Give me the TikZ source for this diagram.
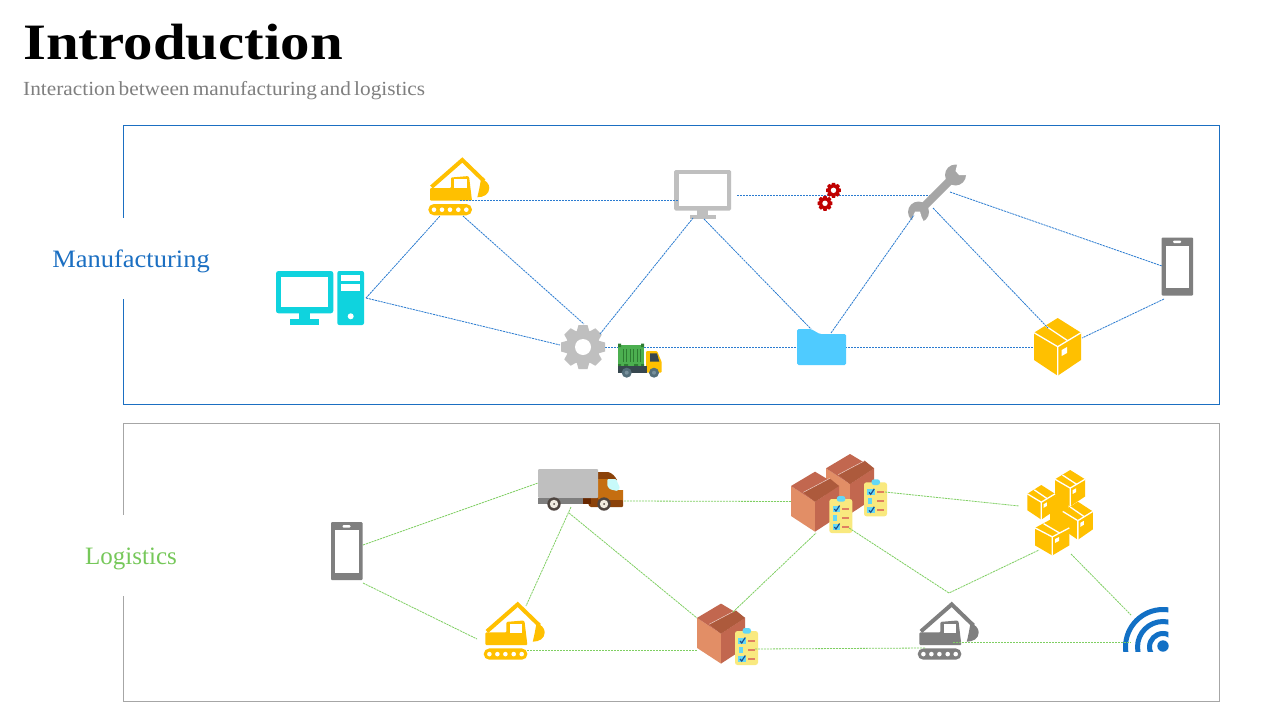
\documentclass[tikz,border=0pt]{standalone}
\usepackage{fontspec}
\setmainfont{Liberation Serif}
\newfontfamily\titlefont[FakeStretch=1.155]{Liberation Serif}
\newfontfamily\subfont[FakeStretch=1.065,WordSpace=0.6]{Liberation Serif}
\newfontfamily\labelfont[FakeStretch=1.06]{Liberation Serif}
\newfontfamily\labelfontb{Liberation Serif}
\definecolor{mblue}{HTML}{1B6FC2}
\definecolor{mgreen}{HTML}{76C85A}
\definecolor{lineb}{HTML}{2A7BD0}
\definecolor{lineg}{HTML}{7FCF62}
\definecolor{frameg}{HTML}{A6A6A6}
\definecolor{amber}{HTML}{FFC000}
\definecolor{cyanpc}{HTML}{0FD3DE}
\definecolor{lgray}{HTML}{BFBFBF}
\definecolor{dgray}{HTML}{7F7F7F}
\definecolor{wgray}{HTML}{A6A6A6}
\definecolor{redgear}{HTML}{C00000}
\definecolor{folderb}{HTML}{4FCBFF}
\definecolor{cartonl}{HTML}{E28E66}
\definecolor{cartonr}{HTML}{C2674F}
\definecolor{cartond}{HTML}{AD5A3C}
\definecolor{clipy}{HTML}{F9E97F}
\definecolor{clipc}{HTML}{63D8F7}
\definecolor{clipo}{HTML}{E08060}
\definecolor{clipk}{HTML}{1F4E8C}
\definecolor{cabo}{HTML}{C56E10}
\definecolor{cabd}{HTML}{8B4209}
\definecolor{cabx}{HTML}{682800}
\definecolor{glassc}{HTML}{C8FAFA}
\definecolor{tyre}{HTML}{4E4540}
\definecolor{hubc}{HTML}{F0EBE0}
\definecolor{contg}{HTML}{4CAF50}
\definecolor{contd}{HTML}{2E7D32}
\definecolor{slate}{HTML}{37474F}
\definecolor{wheel}{HTML}{546E7A}
\definecolor{hubw}{HTML}{78909C}
\definecolor{wifib}{HTML}{1270C5}
\tikzset{
  linkm/.style={draw=lineb,line width=0.8pt,dash pattern=on 2.2pt off 0.8pt},
  linkg/.style={draw=lineg,line width=0.8pt,dash pattern=on 2.2pt off 0.8pt},
  sidelabel/.style={inner sep=0pt},
  pics/excav/.style={code={
    \draw[#1,line width=4pt,line join=miter] (3.5,30) -- (34.3,3) -- (56,24);
    \fill[#1,rounded corners=1pt] (2,31) -- (23,31) -- (23,20.5) [rounded corners=2pt] -- (41,19) [rounded corners=1pt] -- (44,43.7) -- (2,43.7) -- cycle;
    \fill[white] (26.3,22.3) rectangle (38.7,31.3);
    \fill[#1] (53,22) .. controls (58,23) and (61.3,27) .. (61.3,31) .. controls (61.3,37) and (56,40.3) .. (49.3,40.3) .. controls (51,34) and (52,28) .. (53,22) -- cycle;
    \fill[#1,rounded corners=5.6pt] (0.3,47) rectangle (44,58.3);
    \foreach \q in {6,14,22,30.3,38.3} {\fill[white] (\q,52.7) circle (2.3);}
  }},
  pics/phoneicon/.style={code={
    \fill[dgray,rounded corners=1pt] (0,0) rectangle (31.5,58);
    \fill[white] (4,8.2) rectangle (27.5,50.5);
    \fill[white,rounded corners=1pt] (11.5,3) rectangle (19.5,5.5);
  }},
  pics/gearwheel/.style={code={
    \fill[#1] (0,0) circle (17);
    \foreach \a in {0,45,...,315} {\fill[#1,rotate=\a] (15,-6.5) -- (22,-4.5) -- (22,4.5) -- (15,6.5) -- cycle;}
    \fill[white] (0,0) circle (8);
  }},
  pics/goldbox/.style={code={
    \fill[amber] (23.7,0) -- (47,14.7) -- (47,42) -- (23.7,57.7) -- (0,42) -- (0,14.7) -- cycle;
    \draw[white,line width=1.3pt] (0,14.7) -- (23.7,28.7) -- (47,14.7) (23.7,28.7) -- (23.7,58);
    \draw[white,line width=1.3pt] (11.7,8) -- (33.7,22.7);
    \fill[white] (27.7,32) -- (33,29) -- (33,35) -- (27.7,38) -- cycle;
  }},
  pics/carton/.style={code={
    \fill[cartonl] (0,14.3) -- (24,30) -- (24,60) -- (0,44.3) -- cycle;
    \fill[cartonr] (24,30) -- (48,14.3) -- (48,44.3) -- (24,60) -- cycle;
    \fill[cartonr] (24,0) -- (48,14.3) -- (24,30) -- (0,14.3) -- cycle;
    \fill[cartond] (12.3,20.6) -- (38.7,6.7) -- (48,14.3) -- (24,30) -- cycle;
    \draw[white!70!cartonr,line width=0.5pt] (12.3,20.6) -- (38.7,6.7);
  }},
  pics/clipsheet/.style={code={
    \fill[clipy,rounded corners=2.5pt] (0,0) rectangle (23,34);
    \fill[clipc,rounded corners=2.5pt] (7.5,-3) rectangle (16,2.7);
    \foreach \r in {10,28} {
      \fill[clipc] (3.3,\r-3.5) rectangle (10.5,\r+3);
      \draw[clipk,line width=1.2pt] (5,\r) -- (6.7,\r+2) -- (10.3,\r-3.5);
    }
    \fill[clipc] (4,16) rectangle (8,21.5);
    \foreach \r in {10,18.7,28} {\fill[clipo] (13,\r-1) rectangle (20,\r+1);}
  }},
}
\begin{document}
\begin{tikzpicture}[x=1pt,y=-1pt]
\useasboundingbox (0,0) rectangle (1280,720);
\fill[white] (0,0) rectangle (1280,720);
% frames
\draw[mblue,line width=0.9pt] (123.5,125.5) rectangle (1219.5,404.5);
\draw[frameg,line width=0.9pt] (123.5,423.5) rectangle (1219.5,701.5);
\fill[white] (52,217.5) rectangle (210,298.5);
\fill[white] (85,515) rectangle (177,596);
% texts
\node[anchor=base west,inner sep=0pt,font=\titlefont\bfseries\fontsize{51}{55}\selectfont] (title) at (23,59.5) {Introduction};
\node[anchor=base west,inner sep=0pt,text=dgray,font=\subfont\fontsize{20}{24}\selectfont] (subtitle) at (23,95.5) {Interaction between manufacturing and logistics};
\node[sidelabel,text=mblue,font=\labelfont\fontsize{25}{28}\selectfont] (manu) at (131,261.5) {Manufacturing};
\node[sidelabel,text=mgreen,font=\labelfontb\fontsize{25}{28}\selectfont] (logi) at (131,559) {Logistics};
% connector end points
\foreach \n/\p in {pcA/{366,298},exA/{440,216},gearA/{560,345},exB/{463,216},gearB/{584,324},exC/{460,200.5},monA/{678,200.5},gearC/{600,334},monB/{693,218},monC/{704,219},foldA/{811,329},foldB/{831,333},wrA/{914,215},wrB/{933,208},boxA/{1048,328},wrC/{950,192},phA/{1162,266},phB/{1164,299},boxB/{1082,338},monD/{737,195.3},wrD/{930,195.3},gearD/{605,347.3},boxC/{1033,347.3},
  lpA/{363,545},trA/{538,483},lpB/{363,583},lexA/{477,639},trB/{624,501},cartA/{791,501.5},trC/{571,507},lexB/{526,606},trD/{569,513},cartB/{697,618},lexC/{527,650},cartC/{697,650},cartD/{733,612},cartE/{816,533},clipA/{755,649},gexA/{925,648},clipB/{885,492},stkA/{1019,506},clipC/{849,528},kink/{949,593},stkB/{1039,550},stkC/{1071,554},wifiA/{1131,615},gexB/{953,642},wifiB/{1131,642}}
  {\coordinate (\n) at (\p);}
% connectors behind the icons
\draw[linkm] (gearD) -- (boxC);
\draw[linkm] (monD) -- (wrD);
\draw[linkg] (trB) -- (cartA);
% PC
\fill[cyanpc,rounded corners=2.5pt] (276,271) rectangle (333.3,313.3);
\fill[white] (281.3,276.7) rectangle (328.3,307.3);
\fill[cyanpc] (299,313) rectangle (310.3,319.5);
\fill[cyanpc] (290,319) rectangle (319,325);
\fill[cyanpc,rounded corners=2pt] (337.3,271) rectangle (364,325);
\fill[white] (341,274.7) rectangle (360.3,281);
\fill[white] (341,284.3) rectangle (360.3,290.7);
\fill[white] (350.7,316.3) circle (3);
% excavators
\pic at (428,157) {excav=amber};
\pic at (483.4,601.4) {excav=amber};
\pic at (917.4,601.4) {excav=dgray};
% gears
\pic at (583,347) {gearwheel=lgray};
\pic[scale=0.34] at (833.5,190.3) {gearwheel=redgear};
\pic[scale=0.34] at (825,203.3) {gearwheel=redgear};
% container truck
\fill[contg] (618,345) rectangle (644,366);
\fill[contd] (618,343.5) rectangle (621,347) (641,343.5) rectangle (644,347) (618,364) rectangle (621,367) (641,364) rectangle (644,367);
\foreach \q in {622.5,626,629.5,633,636.5,640} {\fill[contd] (\q,349) rectangle (\q+1.2,362);}
\fill[contd] (624,364) rectangle (628,366) (634,364) rectangle (638,366);
\fill[amber,rounded corners=1pt] (646,351) -- (657,351) -- (661.7,362) -- (661.7,372.7) -- (646,372.7) -- cycle;
\fill[slate] (650,353.3) -- (657,353.3) -- (659.3,361.7) -- (650,361.7) -- cycle;
\fill[slate] (618,366) rectangle (646.5,372.7);
\foreach \q in {626.7,654} {\fill[wheel] (\q,372.7) circle (5); \fill[hubw] (\q,372.7) circle (2);}
% monitor
\fill[lgray,rounded corners=1.5pt] (674,170) rectangle (731,210.5);
\fill[white] (678.6,174.3) rectangle (727,206);
\fill[lgray] (697,210) rectangle (708,215.5);
\fill[lgray] (690,215) rectangle (716,219);
% wrench
\fill[wgray] (955.5,175) circle (10.5);
\fill[wgray] (918.5,212) circle (10.5);
\draw[wgray,line width=8pt] (955.5,175) -- (918.5,212);
\fill[white] (957,165) -- (955.5,171) -- (959,175) -- (966,175) -- (975,165) -- (962,157) -- cycle;
\fill[white] (912.7,216.7) -- (915,211.7) -- (920,211.7) -- (921.7,217.3) -- (926,226) -- (911.5,226) -- cycle;
% folder
\fill[folderb,rounded corners=1.5pt] (797,329) -- (811,329) -- (819.7,334) -- (846,334) -- (846,365) -- (797,365) -- cycle;
% big box and phones
\pic at (1034,318) {goldbox};
\pic at (1161.5,237.5) {phoneicon};
\pic at (331,522) {phoneicon};
% big truck
\fill[cabd] (598,472) -- (608,472) .. controls (612,473) and (615,476) .. (617,480) -- (598,480) -- cycle;
\fill[cabo] (598,479) -- (616,479) -- (618,490) -- (623,490) -- (623,501) -- (598,501) -- cycle;
\fill[cabd,rounded corners=1pt] (591,497) -- (598,497) -- (598,500) -- (623,500) -- (623,507) -- (590,507) -- (588,504) -- cycle;
\fill[cabx] (583.3,497.7) rectangle (591,504);
\fill[lgray,rounded corners=1pt] (538,469) rectangle (598,498);
\fill[dgray] (538,497.7) rectangle (583.3,504);
\fill[glassc,rounded corners=1pt] (607.3,479) -- (616,479) -- (620,488) -- (617.3,491) -- (610,489.3) -- (607.3,486) -- cycle;
\foreach \q in {554,604} {\fill[tyre] (\q,504) circle (6.7); \fill[hubc] (\q,504) circle (4.2); \fill[tyre] (\q,504) circle (1);}
% cartons and clipboards
\pic at (826,454) {carton};
\pic at (791,471.7) {carton};
\pic at (864,482.3) {clipsheet};
\pic at (829.3,499) {clipsheet};
\pic at (697,603.6) {carton};
\pic at (735,631) {clipsheet};
% stack of boxes
\fill[amber] (1050,497) -- (1068,497) -- (1070,527) -- (1050,527) -- cycle;
\pic[xscale=0.64,yscale=0.63] at (1055,470) {goldbox};
\pic[xscale=0.59,yscale=0.6] at (1027.3,485) {goldbox};
\pic[xscale=0.64,yscale=0.66] at (1062.7,501.7) {goldbox};
\pic[xscale=0.73,yscale=0.64] at (1035,518.5) {goldbox};
% wifi
\begin{scope}
\clip (1100,600) rectangle (1168.3,651.7);
\foreach \r in {37.5,25.5,13.5} {\draw[wifib,line width=5pt] (1163,647) circle (\r);}
\end{scope}
\fill[wifib] (1163,646) circle (5.7);
% connectors over the icons
\draw[linkm] (pcA) -- (exA);
\draw[linkm] (pcA) -- (gearA);
\draw[linkm] (exB) -- (gearB);
\draw[linkm] (exC) -- (monA);
\draw[linkm] (gearC) -- (monB);
\draw[linkm] (monC) -- (foldA);
\draw[linkm] (foldB) -- (wrA);
\draw[linkm] (wrB) -- (boxA);
\draw[linkm] (wrC) -- (phA);
\draw[linkm] (phB) -- (boxB);
\draw[linkg] (lpA) -- (trA);
\draw[linkg] (lpB) -- (lexA);
\draw[linkg] (trC) -- (lexB);
\draw[linkg] (trD) -- (cartB);
\draw[linkg] (lexC) -- (cartC);
\draw[linkg] (cartD) -- (cartE);
\draw[linkg] (clipA) -- (gexA);
\draw[linkg] (clipB) -- (stkA);
\draw[linkg] (clipC) -- (kink) -- (stkB);
\draw[linkg] (stkC) -- (wifiA);
\draw[linkg] (gexB) -- (wifiB);
\end{tikzpicture}
\end{document}
